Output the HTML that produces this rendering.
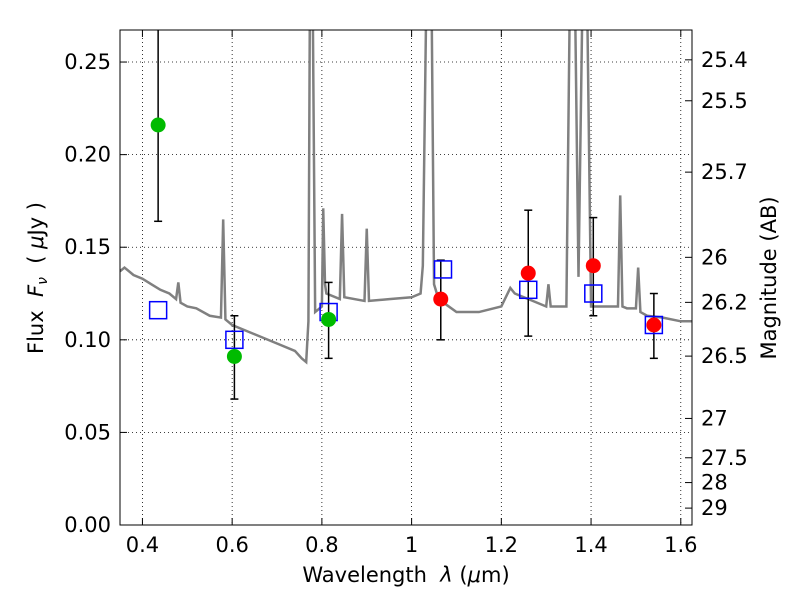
<!DOCTYPE html>
<html><head><meta charset="utf-8"><style>
body{margin:0;background:#fff}
svg text{font-family:"DejaVu Sans","Liberation Sans",sans-serif;font-size:21px;fill:#000;white-space:pre}
</style></head><body>
<svg id="c" width="800" height="600"></svg>
<script>
const specWave=[0.35,0.36,0.38,0.40,0.42,0.44,0.46,0.475,0.48,0.485,0.50,0.52,0.55,0.575,0.58,0.585,0.60,0.65,0.70,0.74,0.755,0.765,0.77,0.773,0.78,0.785,0.80,0.803,0.807,0.81,0.84,0.845,0.85,0.895,0.90,0.905,0.95,1.00,1.02,1.025,1.032,1.045,1.05,1.06,1.10,1.15,1.20,1.22,1.23,1.28,1.30,1.305,1.31,1.345,1.352,1.365,1.372,1.38,1.392,1.40,1.42,1.46,1.465,1.47,1.48,1.50,1.505,1.51,1.525,1.56,1.60,1.625];
const specFlux=[0.137,0.139,0.135,0.133,0.130,0.127,0.125,0.122,0.131,0.120,0.118,0.117,0.113,0.112,0.165,0.111,0.108,0.103,0.098,0.094,0.090,0.088,0.110,0.27,0.27,0.115,0.118,0.171,0.13,0.125,0.122,0.168,0.123,0.121,0.160,0.121,0.122,0.123,0.125,0.14,0.27,0.27,0.13,0.122,0.115,0.115,0.118,0.128,0.125,0.120,0.118,0.130,0.118,0.118,0.27,0.27,0.134,0.27,0.27,0.118,0.118,0.118,0.178,0.118,0.117,0.117,0.139,0.115,0.113,0.112,0.110,0.110];
const greenWave=[0.435,0.605,0.815];
const greenFlux=[0.216,0.091,0.111];
const greenLo=[0.164,0.068,0.090];
const greenHi=[0.30,0.113,0.131];
const redWave=[1.065,1.26,1.405,1.54];
const redFlux=[0.122,0.136,0.140,0.108];
const redLo=[0.100,0.102,0.113,0.090];
const redHi=[0.143,0.170,0.166,0.125];
const boxWave=[0.435,0.605,0.815,1.07,1.26,1.405,1.54];
const boxFlux=[0.116,0.100,0.115,0.138,0.127,0.125,0.108];
const xTicks=[0.4,0.6,0.8,1,1.2,1.4,1.6];
const yTicks=[0,0.05,0.10,0.15,0.20,0.25];
const magTicks=[25.4,25.5,25.7,26,26.2,26.5,27,27.5,28,29];

const L=120,R=692,T=30,B=525,xmin=0.35,xmax=1.625,ymin=0,ymax=0.2673;
const X=v=>L+(v-xmin)/(xmax-xmin)*(R-L);
const Y=v=>B-(v-ymin)/(ymax-ymin)*(B-T);
const svg=document.getElementById('c');const NS='http://www.w3.org/2000/svg';
function mk(t,a,p){const e=document.createElementNS(NS,t);for(const k in a)e.setAttribute(k,a[k]);(p||svg).appendChild(e);return e;}
const defs=mk('defs',{});const cp=mk('clipPath',{id:'clip'},defs);mk('rect',{x:L,y:T,width:R-L,height:B-T},cp);
xTicks.forEach(v=>{const g=mk('line',{x1:X(v),x2:X(v),y1:T,y2:B,stroke:'#000','stroke-dasharray':'1,3','stroke-width':0.8});

mk('line',{x1:X(v),x2:X(v),y1:B,y2:B-7,stroke:'#000'});mk('line',{x1:X(v),x2:X(v),y1:T,y2:T+7,stroke:'#000'});
const t=mk('text',{x:X(v),y:B+27,'text-anchor':'middle'});t.textContent=v;
});
yTicks.forEach(v=>{const g=mk('line',{x1:L,x2:R,y1:Y(v),y2:Y(v),stroke:'#000','stroke-dasharray':'1,3','stroke-width':0.8});

mk('line',{x1:L,x2:L+7,y1:Y(v),y2:Y(v),stroke:'#000'});
const t=mk('text',{x:L-9,y:Y(v)+7,'text-anchor':'end'});t.textContent=v.toFixed(2);
});
magTicks.forEach(m=>{const f=Math.pow(10,(23.9-m)/2.5);const y=Y(f);
mk('line',{x1:R,x2:R-7,y1:y,y2:y,stroke:'#000'});
const t=mk('text',{x:R+9,y:y+7});t.textContent=m;
});
const g=mk('g',{'clip-path':'url(#clip)'});
const sp=mk('polyline',{points:specWave.map((w,i)=>X(w)+','+Y(specFlux[i])).join(' '),fill:'none',stroke:'#808080','stroke-width':2.5},g);

function errs(w,lo,hi,name){w.forEach((x,i)=>{const e=mk('g',{},g);

mk('line',{x1:X(x),x2:X(x),y1:Y(lo[i]),y2:Y(hi[i]),stroke:'#000','stroke-width':1.5},e);
[lo[i],hi[i]].forEach(v=>mk('line',{x1:X(x)-4,x2:X(x)+4,y1:Y(v),y2:Y(v),stroke:'#000','stroke-width':1.5},e));});}
errs(greenWave,greenLo,greenHi,'green-error-bar');errs(redWave,redLo,redHi,'red-error-bar');
boxWave.forEach((w,i)=>{const r=mk('rect',{x:X(w)-8.5,y:Y(boxFlux[i])-8.5,width:17,height:17,fill:'none',stroke:'#0000ff','stroke-width':1.5},g);
});
greenWave.forEach((w,i)=>{const c=mk('circle',{cx:X(w),cy:Y(greenFlux[i]),r:7.5,fill:'#00bb00'},g);
});
redWave.forEach((w,i)=>{const c=mk('circle',{cx:X(w),cy:Y(redFlux[i]),r:7.5,fill:'#ff0000'},g);
});
const fr=mk('rect',{x:L,y:T,width:R-L,height:B-T,fill:'none',stroke:'#000','stroke-width':1});

const xt=mk('text',{x:406,y:582,'text-anchor':'middle'});xt.innerHTML='Wavelength  <tspan font-style="italic">λ</tspan> (<tspan font-style="italic">μ</tspan>m)';

const yt=mk('text',{x:0,y:0,'text-anchor':'middle',transform:'translate(43,278) rotate(-90)'});yt.innerHTML='Flux  <tspan font-style="italic">F</tspan><tspan font-style="italic" font-size="14" dy="4">ν</tspan><tspan dy="-4">  ( </tspan><tspan font-style="italic">μ</tspan>Jy )';

const rt=mk('text',{x:0,y:0,'text-anchor':'middle',transform:'translate(776,278) rotate(-90)'});rt.textContent='Magnitude (AB)';

</script>
</body></html>
